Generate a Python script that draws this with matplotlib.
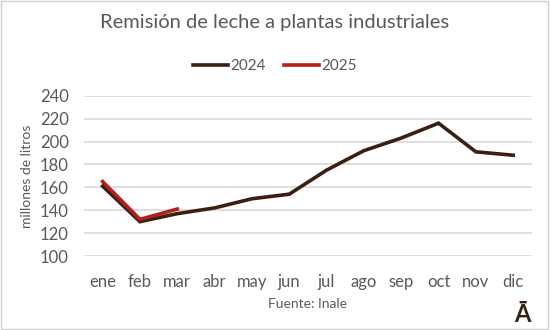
import matplotlib.pyplot as plt

plt.rcParams["font.family"] = ["Lato", "DejaVu Sans"]

meses = ["ene", "feb", "mar", "abr", "may", "jun", "jul", "ago", "sep", "oct", "nov", "dic"]
v2024 = [161, 130, 137, 142, 150, 154, 175, 192, 203, 216, 191, 188]
v2025 = [165, 132, 141]

gris = "#595959"

fig = plt.figure(figsize=(5.5, 3.3), dpi=100)
ax = fig.add_axes([0.1527, 0.2242, 0.8143, 0.4858])

ax.plot(range(len(v2024)), v2024, color="#3b1f10", linewidth=2.6, label="2024",
        solid_joinstyle="miter")
ax.plot(range(len(v2025)), v2025, color="#b3201b", linewidth=2.6, label="2025",
        solid_joinstyle="miter")

ax.set_xlim(-0.5, 11.5)
ax.set_ylim(100, 240)
ax.set_yticks(range(100, 241, 20))
ax.set_xticks(range(12))
ax.set_xticklabels(meses)
ax.grid(axis="y", color="#d9d9d9", linewidth=1.2)
ax.set_axisbelow(True)
for s in ax.spines.values():
    s.set_visible(False)
ax.tick_params(length=0, labelsize=12, labelcolor=gris)
ax.tick_params(axis="x", pad=13)
ax.tick_params(axis="y", pad=11)

ax.set_ylabel("millones de litros", fontsize=10, color=gris, labelpad=5)
ax.set_xlabel("Fuente: Inale", fontsize=10, color=gris, labelpad=6)

fig.text(0.5, 0.933, "Remisión de leche a plantas industriales", ha="center", va="center",
         fontsize=14.5, color=gris)
fig.legend(loc="center", bbox_to_anchor=(0.5, 0.8), ncol=2, frameon=False,
           fontsize=11, handlelength=2.3, handletextpad=0.15, columnspacing=1.2,
           labelcolor=gris)

fig.text(0.95, 0.048, "Ā", ha="center", va="center", fontsize=17, fontweight="bold",
         color="#3b1f10")

fig.patches.append(plt.Rectangle((0.002, 0.003), 0.995, 0.993, transform=fig.transFigure,
                                 fill=False, edgecolor="#d0d0d0", linewidth=1))

fig.savefig("out.png", dpi=100)
